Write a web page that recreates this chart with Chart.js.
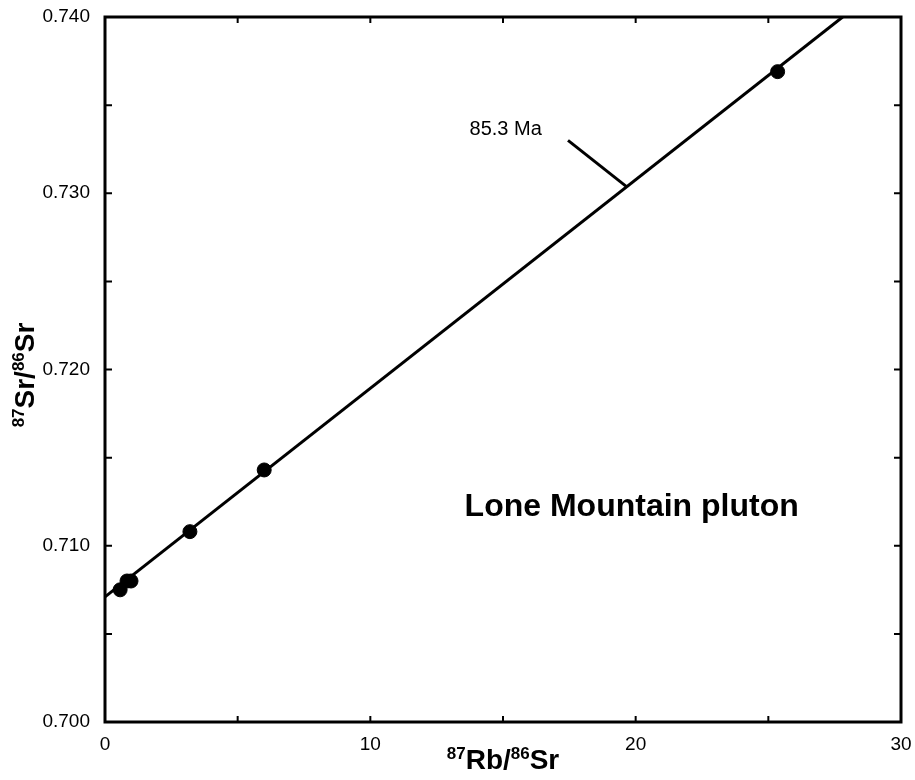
<!DOCTYPE html>
<html>
<head>
<meta charset="utf-8">
<script src="https://cdn.jsdelivr.net/npm/chart.js@4/dist/chart.umd.min.js"></script>
<style>
  html, body { margin: 0; padding: 0; background: #fff; }
  #wrap { width: 915px; height: 780px; }
</style>
</head>
<body>
<div id="wrap"><canvas id="isochron"></canvas></div>
<script>
// Rb-Sr isochron, Lone Mountain pluton
const rbSr = [0.57, 0.83, 0.98, 3.2, 6.0, 25.35];
const srSr = [0.7075, 0.7080, 0.7080, 0.7108, 0.7143, 0.7369];

// regression line end points
const fitX = [0, 27.8];
const fitY = [0.7071, 0.7400];

// leader line from the age label to the isochron
const leaderX = [17.45, 19.68];
const leaderY = [0.7330, 0.73035];

const xTicks = [0, 10, 20, 30];
const yTicks = ['0.700', '0.710', '0.720', '0.730', '0.740'];

const ageLabel = { x: 15.1, y: 0.7336, text: '85.3 Ma' };
const plutonLabel = { x: 19.85, y: 0.7122, text: 'Lone Mountain pluton' };

const FONT = '"Liberation Sans", Arial, Helvetica, sans-serif';

function pairs(xs, ys) {
    return xs.map((x, i) => ({ x: x, y: ys[i] }));
}

// draws text runs [text, size, raise] one after another, centred on x
function drawRuns(ctx, runs, x, y) {
    let total = 0;
    runs.forEach(r => {
        ctx.font = 'bold ' + r[1] + 'px ' + FONT;
        total += ctx.measureText(r[0]).width;
    });
    let cx = x - total / 2;
    runs.forEach(r => {
        ctx.font = 'bold ' + r[1] + 'px ' + FONT;
        ctx.fillText(r[0], cx, y - r[2]);
        cx += ctx.measureText(r[0]).width;
    });
}

const framePlugin = {
    id: 'frame',
    afterDraw(chart) {
        const ctx = chart.ctx;
        const a = chart.chartArea;
        const xs = chart.scales.x, ys = chart.scales.y;
        ctx.save();
        ctx.strokeStyle = '#000';
        ctx.lineWidth = 3;
        ctx.strokeRect(a.left, a.top, a.right - a.left, a.bottom - a.top);

        // inward ticks on all four sides
        ctx.lineWidth = 2;
        ctx.beginPath();
        xs.ticks.forEach(t => {
            const px = xs.getPixelForValue(t.value);
            if (px <= a.left + 1 || px >= a.right - 1) return;
            ctx.moveTo(px, a.bottom); ctx.lineTo(px, a.bottom - 6);
            ctx.moveTo(px, a.top); ctx.lineTo(px, a.top + 6);
        });
        ys.ticks.forEach(t => {
            const py = ys.getPixelForValue(t.value);
            if (py <= a.top + 1 || py >= a.bottom - 1) return;
            ctx.moveTo(a.left, py); ctx.lineTo(a.left + 7, py);
            ctx.moveTo(a.right, py); ctx.lineTo(a.right - 7, py);
        });
        ctx.stroke();

        ctx.fillStyle = '#000';
        ctx.textBaseline = 'middle';
        ctx.textAlign = 'center';
        ctx.font = '20px ' + FONT;
        ctx.fillText(ageLabel.text, xs.getPixelForValue(ageLabel.x), ys.getPixelForValue(ageLabel.y));
        ctx.font = 'bold 32px ' + FONT;
        ctx.fillText(plutonLabel.text, xs.getPixelForValue(plutonLabel.x), ys.getPixelForValue(plutonLabel.y));

        // axis titles with superscript mass numbers
        ctx.textAlign = 'left';
        ctx.textBaseline = 'alphabetic';
        const xt = [['87', 17, 10], ['Rb/', 28, 0], ['86', 17, 10], ['Sr', 28, 0]];
        drawRuns(ctx, xt, (a.left + a.right) / 2, 769);

        ctx.translate(34, 375);
        ctx.rotate(-Math.PI / 2);
        const yt = [['87', 17, 10], ['Sr/', 28, 0], ['86', 17, 10], ['Sr', 28, 0]];
        drawRuns(ctx, yt, 0, 0);
        ctx.restore();
    }
};

const ctx = document.getElementById('isochron').getContext('2d');
const isochronChart = new Chart(ctx, {
    type: 'scatter',
    data: {
        datasets: [
            {
                label: 'Samples',
                data: pairs(rbSr, srSr),
                backgroundColor: '#000',
                borderColor: '#000',
                pointRadius: 7,
                pointHoverRadius: 7,
            },
            {
                label: 'Isochron',
                data: pairs(fitX, fitY),
                showLine: true,
                borderColor: '#000',
                borderWidth: 3,
                pointRadius: 0,
            },
            {
                label: 'Leader',
                data: pairs(leaderX, leaderY),
                showLine: true,
                borderColor: '#000',
                borderWidth: 3,
                pointRadius: 0,
            }
        ]
    },
    options: {
        responsive: true,
        maintainAspectRatio: false,
        animation: false,
        layout: { padding: { left: 0, right: 14, top: 17, bottom: 0 } },
        scales: {
            x: {
                type: 'linear',
                min: 0,
                max: 30,
                grid: { display: false },
                border: { display: false },
                ticks: {
                    stepSize: 5,
                    autoSkip: false,
                    maxRotation: 0,
                    padding: 3,
                    color: '#000',
                    font: { family: FONT, size: 19 },
                    callback: v => (xTicks.includes(v) ? String(v) : '')
                },
                afterFit(scale) {
                    scale.height = 58;
                    scale.paddingLeft = 0;
                    scale.paddingRight = 0;
                }
            },
            y: {
                type: 'linear',
                min: 0.700,
                max: 0.740,
                grid: { display: false },
                border: { display: false },
                ticks: {
                    stepSize: 0.005,
                    autoSkip: false,
                    padding: 7,
                    color: '#000',
                    font: { family: FONT, size: 19 },
                    callback: v => {
                        const s = (Math.round(v * 1000) / 1000).toFixed(3);
                        return yTicks.includes(s) ? s : '';
                    }
                },
                afterFit(scale) {
                    scale.width = 105;
                    scale.paddingTop = 0;
                    scale.paddingBottom = 0;
                }
            }
        },
        plugins: {
            legend: { display: false },
            tooltip: { enabled: false }
        }
    },
    plugins: [framePlugin]
});
</script>
</body>
</html>
